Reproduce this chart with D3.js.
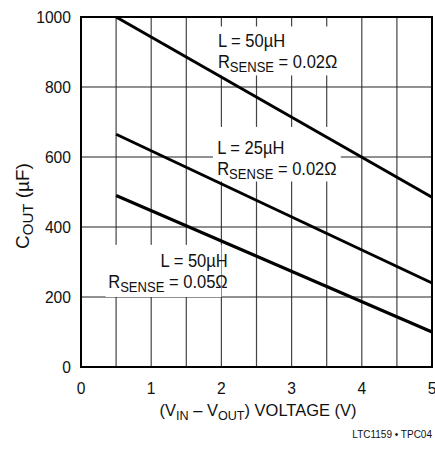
<!DOCTYPE html>
<html>
<head>
<meta charset="utf-8">
<script src="https://cdn.jsdelivr.net/npm/d3@7"></script>
<style>
	body { margin: 0; background: #fff; }
	svg { display: block; }
	text { font-family: "Liberation Sans", Arial, sans-serif; fill: #111; }
</style>
</head>
<body>
<svg id="chart" width="435" height="449"></svg>
<script>
'use strict';

// curve endpoints
var voltage = [0.5, 5];
var cout50u002 = [1000, 485];
var cout25u002 = [665, 240];
var cout50u005 = [490, 100];

var xTicks = [0, 1, 2, 3, 4, 5];
var yTicks = [0, 200, 400, 600, 800, 1000];
var xGrid = [0.5, 1, 1.5, 2, 2.5, 3, 3.5, 4, 4.5];
var yGrid = [200, 400, 600, 800];

var labelL = ["L = 50\u00b5H", "L = 25\u00b5H", "L = 50\u00b5H"];
var labelR = ["0.02\u03a9", "0.02\u03a9", "0.05\u03a9"];

var svg = d3.select("#chart");

var x = d3.scaleLinear().domain([0, 5]).range([81, 432]);
var y = d3.scaleLinear().domain([0, 1000]).range([367, 17]);

// condensed look: no narrow font installed, so squeeze horizontally
function place(px, py, sx) {
	return "translate(" + px + "," + py + ") scale(" + sx + ",1)";
}

// grid
svg.append("g").selectAll("line").data(xGrid).enter().append("line")
	.attr("x1", function(d) { return x(d); })
	.attr("x2", function(d) { return x(d); })
	.attr("y1", y(1000)).attr("y2", y(0))
	.attr("stroke", "#444").attr("stroke-width", 1.2);

svg.append("g").selectAll("line").data(yGrid).enter().append("line")
	.attr("x1", x(0)).attr("x2", x(5))
	.attr("y1", function(d) { return y(d); })
	.attr("y2", function(d) { return y(d); })
	.attr("stroke", "#222").attr("stroke-width", 1.2);

// label boxes (white, mask the grid)
var boxes = [
	{x0: 1.88, x1: 3.72, y0: 973, y1: 833},
	{x0: 1.88, x1: 3.70, y0: 686, y1: 530},
	{x0: 0.35, x1: 2.0, y0: 349, y1: 200}
];
svg.append("g").selectAll("rect").data(boxes).enter().append("rect")
	.attr("x", function(d) { return x(d.x0); })
	.attr("y", function(d) { return y(d.y0); })
	.attr("width", function(d) { return x(d.x1) - x(d.x0); })
	.attr("height", function(d) { return y(d.y1) - y(d.y0); })
	.attr("fill", "#fff");

// frame
svg.append("rect")
	.attr("x", x(0)).attr("y", y(1000))
	.attr("width", x(5) - x(0)).attr("height", y(0) - y(1000))
	.attr("fill", "none").attr("stroke", "#000").attr("stroke-width", 2);

// curves
var line = d3.line()
	.x(function(d) { return x(d[0]); })
	.y(function(d) { return y(d[1]); });

[cout50u002, cout25u002, cout50u005].forEach(function(s) {
	svg.append("path")
		.attr("d", line(d3.zip(voltage, s)))
		.attr("fill", "none")
		.attr("stroke", "#000")
		.attr("stroke-width", 3);
});

// curve labels
var anchors = [
	{x: 1.95, y: 915, a: "start"},
	{x: 1.94, y: 609, a: "start"},
	{x: 2.09, y: 287, a: "end"}
];
anchors.forEach(function(p, i) {
	var g = svg.append("g").attr("text-anchor", p.a).style("font-size", "19px");
	g.append("text").attr("transform", place(x(p.x), y(p.y), 0.87)).text(labelL[i]);
	var t = g.append("text").attr("transform", place(x(p.x), y(p.y) + 21, 0.87));
	t.append("tspan").text("R");
	t.append("tspan").attr("dy", 4).style("font-size", "15px").text("SENSE");
	t.append("tspan").attr("dy", -4).text(" = " + labelR[i]);
});

// tick labels
svg.append("g").selectAll("text").data(xTicks).enter().append("text")
	.attr("transform", function(d) { return place(x(d), 394, 0.92); })
	.attr("text-anchor", "middle")
	.style("font-size", "17px")
	.text(function(d) { return d; });

svg.append("g").selectAll("text").data(yTicks).enter().append("text")
	.attr("transform", function(d) { return place(71, y(d) + 6, 0.92); })
	.attr("text-anchor", "end")
	.style("font-size", "17px")
	.text(function(d) { return d; });

// axis titles
var xt = svg.append("text")
	.attr("transform", place(258, 416, 0.97))
	.attr("text-anchor", "middle")
	.style("font-size", "17px");
xt.append("tspan").text("(V");
xt.append("tspan").attr("dy", 4).style("font-size", "13px").text("IN");
xt.append("tspan").attr("dy", -4).text(" \u2013 V");
xt.append("tspan").attr("dy", 4).style("font-size", "13px").text("OUT");
xt.append("tspan").attr("dy", -4).text(") VOLTAGE (V)");

var yt = svg.append("text")
	.attr("transform", "translate(29,206) rotate(-90)")
	.attr("text-anchor", "middle")
	.style("font-size", "19px");
yt.append("tspan").text("C");
yt.append("tspan").attr("dy", 4).style("font-size", "15px").text("OUT");
yt.append("tspan").attr("dy", -4).text(" (\u00b5F)");

svg.append("text")
	.attr("x", 432).attr("y", 438)
	.attr("text-anchor", "end")
	.style("font-size", "10px")
	.text("LTC1159 \u2022 TPC04");
</script>
</body>
</html>
